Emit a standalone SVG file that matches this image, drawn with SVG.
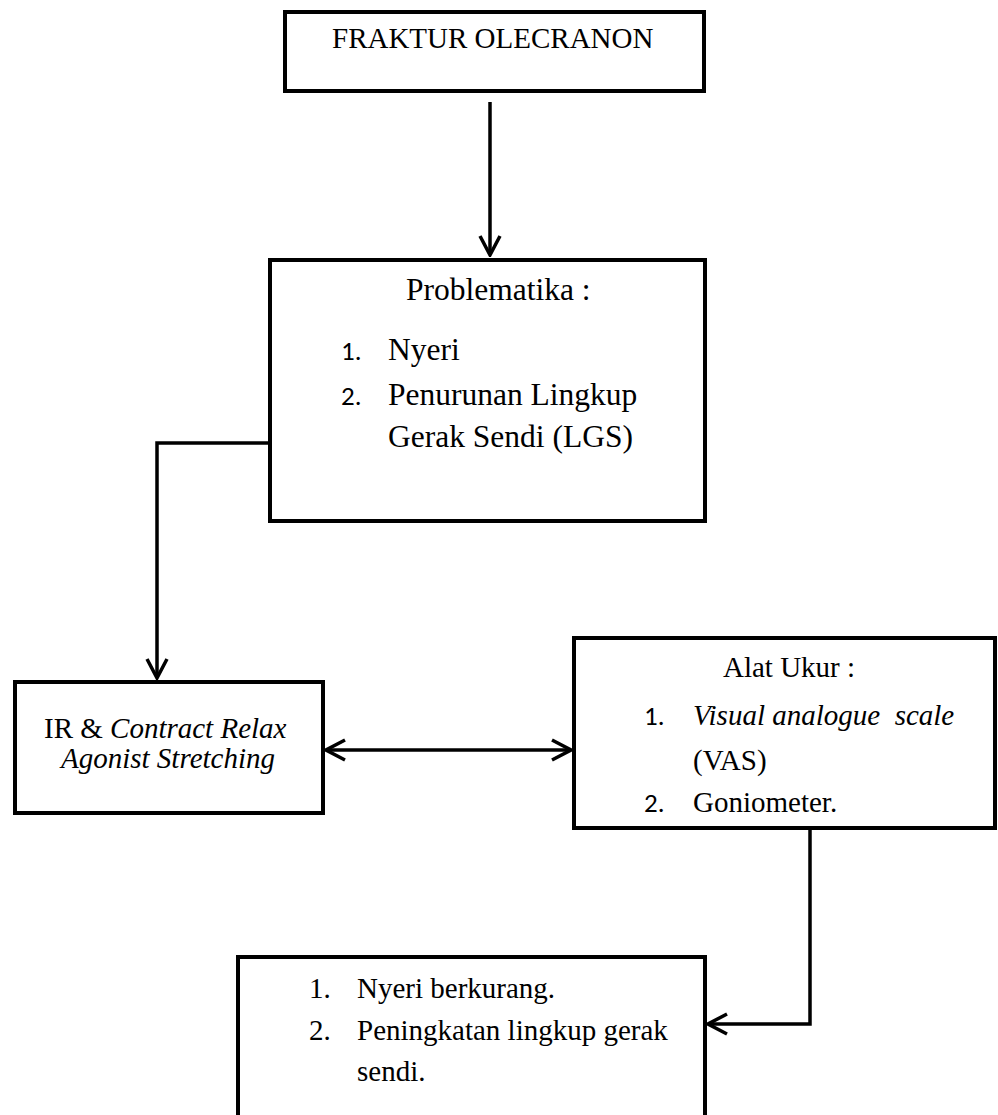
<svg xmlns="http://www.w3.org/2000/svg" width="998" height="1115" viewBox="0 0 998 1115">
<style>
.box{fill:#fff;stroke:#000;stroke-width:4}
.t{font-family:"Liberation Serif","Times New Roman",serif;font-size:29px;fill:#000}
.tb{font-family:"Liberation Serif","Times New Roman",serif;font-size:31.5px;fill:#000}
.n{font-family:"Carlito","Liberation Sans",Arial,sans-serif;font-size:27px;fill:#000}
.i{font-style:italic}
.c{fill:none;stroke:#000;stroke-width:3.5}
</style>
<defs>
<marker id="ah" viewBox="-24 -13 26 26" refX="0" refY="0" markerWidth="26" markerHeight="26" markerUnits="userSpaceOnUse" orient="auto-start-reverse">
<path d="M-19,-10 L0,0 L-19,10" fill="none" stroke="#000" stroke-width="3.5"/>
</marker>
</defs>
<g id="connectors">
<path class="c" d="M490,102 V255" marker-end="url(#ah)"/>
<path class="c" d="M270,443 H157 V678" marker-end="url(#ah)"/>
<path class="c" d="M326,750 H571" marker-start="url(#ah)" marker-end="url(#ah)"/>
<path class="c" d="M810,828 V1024 H708" marker-end="url(#ah)"/>
</g>
<g id="fraktur">
<rect class="box" x="285" y="12" width="419" height="79"/>
<text class="t" x="332" y="48">FRAKTUR OLECRANON</text>
</g>
<g id="problematika">
<rect class="box" x="270" y="260" width="435" height="261"/>
<text class="tb" x="406" y="300">Problematika :</text>
<text class="n" x="341" y="360">1.</text>
<text class="tb" x="388" y="360">Nyeri</text>
<text class="n" x="341" y="405">2.</text>
<text class="tb" x="388" y="405">Penurunan Lingkup</text>
<text class="tb" x="388" y="447">Gerak Sendi (LGS)</text>
</g>
<g id="intervensi">
<rect class="box" x="15" y="682" width="308" height="131"/>
<text class="t" x="44" y="738">IR &amp; <tspan class="i">Contract Relax</tspan></text>
<text class="t i" x="61" y="768">Agonist Stretching</text>
</g>
<g id="alat-ukur">
<rect class="box" x="574" y="638" width="421" height="190"/>
<text class="t" x="723" y="677">Alat Ukur :</text>
<text class="n" x="644" y="725">1.</text>
<text class="t i" x="693" y="725" xml:space="preserve">Visual analogue  scale</text>
<text class="t" x="693" y="770">(VAS)</text>
<text class="n" x="644" y="812">2.</text>
<text class="t" x="693" y="812">Goniometer.</text>
</g>
<g id="hasil">
<rect class="box" x="238" y="957" width="467" height="180"/>
<text class="t" x="309" y="998">1.</text>
<text class="t" x="357" y="998">Nyeri berkurang.</text>
<text class="t" x="309" y="1040">2.</text>
<text class="t" x="357" y="1040">Peningkatan lingkup gerak</text>
<text class="t" x="357" y="1081">sendi.</text>
</g>
</svg>
